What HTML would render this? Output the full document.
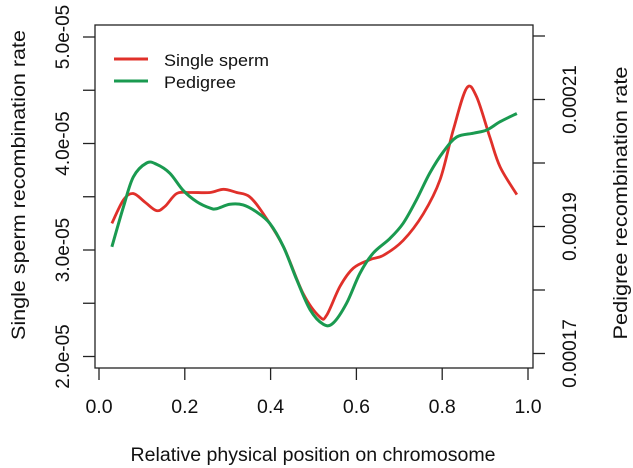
<!DOCTYPE html>
<html><head><meta charset="utf-8"><style>
body{margin:0;background:#fff}
svg{display:block;font-family:"Liberation Sans",Arial,sans-serif}
</style></head><body>
<svg id="c" width="633" height="468" viewBox="0 0 633 468">
<rect x="95" y="25" width="438" height="343" fill="none" stroke="#222" stroke-width="1.3"/>
<g id="ax"></g>
<g id="series"></g>
<g>
<line x1="114" y1="59" x2="148" y2="59" stroke="#e0302a" stroke-width="3"/>
<text x="164" y="66" font-size="17" textLength="105" lengthAdjust="spacingAndGlyphs" fill="#111">Single sperm</text>
<line x1="114" y1="81" x2="148" y2="81" stroke="#1a9a50" stroke-width="3"/>
<text x="164" y="88" font-size="17" textLength="72" lengthAdjust="spacingAndGlyphs" fill="#111">Pedigree</text>
</g>
<text x="313" y="461" font-size="19" textLength="365" lengthAdjust="spacingAndGlyphs" text-anchor="middle" fill="#111">Relative physical position on chromosome</text>
<text transform="translate(25,185) rotate(-90)" font-size="19" textLength="310" lengthAdjust="spacingAndGlyphs" text-anchor="middle" fill="#111">Single sperm recombination rate</text>
<text transform="translate(627,203) rotate(-90)" font-size="19" textLength="273" lengthAdjust="spacingAndGlyphs" text-anchor="middle" fill="#111">Pedigree recombination rate</text>
</svg>
<script>
const xTicks=[0,0.2,0.4,0.6,0.8,1.0];
const xTickLabels=["0.0","0.2","0.4","0.6","0.8","1.0"];
const leftTicks=[2.0,2.5,3.0,3.5,4.0,4.5,5.0];
const leftTickLabels=["2.0e-05","","3.0e-05","","4.0e-05","","5.0e-05"];
const rightTicks=[17,18,19,20,21,22];
const rightTickLabels=["0.00017","","0.00019","","0.00021",""];
const spermX=[0.030,0.057,0.080,0.107,0.134,0.154,0.181,0.212,0.259,0.290,0.321,0.351,0.383,0.430,0.476,0.515,0.531,0.562,0.593,0.632,0.663,0.709,0.756,0.795,0.826,0.857,0.880,0.911,0.935,0.974];
const spermY=[3.25,3.47,3.53,3.45,3.37,3.41,3.53,3.54,3.54,3.57,3.54,3.50,3.34,3.03,2.59,2.37,2.39,2.66,2.83,2.91,2.95,3.09,3.34,3.66,4.13,4.52,4.44,4.06,3.78,3.52];
const pedX=[0.030,0.057,0.080,0.111,0.134,0.165,0.196,0.228,0.259,0.274,0.305,0.336,0.367,0.398,0.430,0.461,0.492,0.523,0.546,0.577,0.608,0.639,0.678,0.709,0.740,0.771,0.803,0.834,0.873,0.904,0.935,0.974];
const pedY=[18.68,19.31,19.78,20.00,19.98,19.84,19.57,19.39,19.29,19.28,19.35,19.34,19.23,19.05,18.68,18.16,17.69,17.46,17.48,17.79,18.26,18.58,18.81,19.05,19.42,19.84,20.18,20.41,20.47,20.52,20.65,20.78];

const NS="http://www.w3.org/2000/svg";
const sx=v=>99+429*v;
const syL=v=>37+(5.0-v)*106.5;
const syR=v=>36+(22-v)*63.5;
function mk(tag,attrs,parent){const e=document.createElementNS(NS,tag);for(const k in attrs)e.setAttribute(k,attrs[k]);parent.appendChild(e);return e;}
const ax=document.getElementById('ax');
xTicks.forEach((t,i)=>{
 const l=mk('line',{x1:sx(t),x2:sx(t),y1:368,y2:380,stroke:'#222','stroke-width':1.3},ax);
 
 
 const tx=mk('text',{x:sx(t),y:413,'font-size':19.5,'text-anchor':'middle',fill:'#111'},ax);
 tx.textContent=xTickLabels[i];
 
 
});
leftTicks.forEach((t,i)=>{
 const y=syL(t);
 const l=mk('line',{x1:83,x2:95,y1:y,y2:y,stroke:'#222','stroke-width':1.3},ax);
 
 
 if(leftTickLabels[i]){
 const tx=mk('text',{transform:`translate(69,${y}) rotate(-90)`,'font-size':19,'text-anchor':'middle',fill:'#111'},ax);
 tx.textContent=leftTickLabels[i];
 
 }
});
rightTicks.forEach((t,i)=>{
 const y=syR(t);
 const l=mk('line',{x1:533,x2:545,y1:y,y2:y,stroke:'#222','stroke-width':1.3},ax);
 
 
 if(rightTickLabels[i]){
 const tx=mk('text',{transform:`translate(576,${y}) rotate(-90)`,'font-size':19,'text-anchor':'middle',fill:'#111'},ax);
 tx.textContent=rightTickLabels[i];
 
 }
});
function smooth(pts){let d=`M${pts[0][0]},${pts[0][1]}`;for(let i=0;i<pts.length-1;i++){const p0=pts[i-1]||pts[i],p1=pts[i],p2=pts[i+1],p3=pts[i+2]||p2;
 d+=` C${p1[0]+(p2[0]-p0[0])/6},${p1[1]+(p2[1]-p0[1])/6} ${p2[0]-(p3[0]-p1[0])/6},${p2[1]-(p3[1]-p1[1])/6} ${p2[0]},${p2[1]}`;}return d;}
const sg=document.getElementById('series');
const ped=mk('path',{d:smooth(pedX.map((x,i)=>[sx(x),syR(pedY[i])])),fill:'none',stroke:'#1a9a50','stroke-width':3},sg);


const sp=mk('path',{d:smooth(spermX.map((x,i)=>[sx(x),syL(spermY[i])])),fill:'none',stroke:'#e0302a','stroke-width':2.8},sg);


sg.appendChild(ped);
</script>
</body></html>
